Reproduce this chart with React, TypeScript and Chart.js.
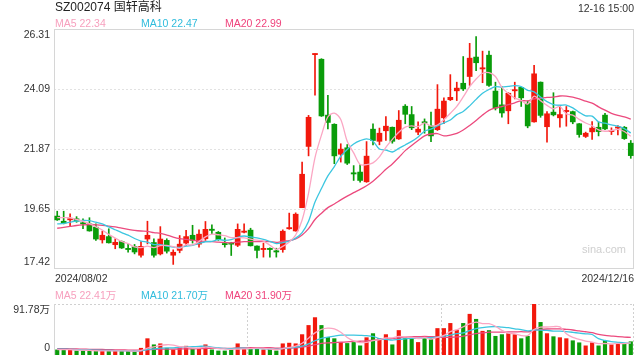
import React, { useEffect, useRef } from 'react';
import { Chart, registerables } from 'chart.js';

Chart.register(...registerables);

// ---------- texts ----------
const titleText = 'SZ002074 国轩高科';
const timeText = '12-16 15:00';
const dateTicks = ['2024/08/02', '2024/12/16'];
const priceTicks = [26.31, 24.09, 21.87, 19.65, 17.42];
const volumeTicks = [91.78, 0];
const priceLegend = ['MA5 22.34', 'MA10 22.47', 'MA20 22.99'];
const volumeLegend = ['MA5 22.41万', 'MA10 21.70万', 'MA20 31.90万'];
const watermark = 'sina.com';

// ---------- data (2024/08/02 .. 2024/12/16, daily) ----------
const opens = [
  19.38, 19.19, 19.24, 19.28, 19.12, 19.09, 18.97, 18.50, 18.62, 18.32,
  18.44, 18.16, 18.25, 17.93, 18.53, 18.40, 17.98, 18.48, 17.93, 18.11,
  18.38, 18.67, 18.34, 18.54, 18.87, 18.78, 18.34, 18.36, 18.30, 18.78,
  18.86, 18.27, 18.14, 18.16, 18.07, 18.14, 18.91, 18.83, 19.69, 21.96,
  25.36, 25.19, 23.12, 22.78, 21.67, 21.91, 20.97, 21.01, 20.65, 22.60,
  22.15, 22.54, 22.67, 22.24, 23.45, 23.14, 22.49, 22.85, 22.72, 22.58,
  23.02, 23.69, 24.02, 24.30, 24.55, 25.27, 24.83, 25.34, 24.01, 23.50,
  23.28, 24.02, 24.15, 23.56, 22.87, 24.34, 22.69, 23.23, 23.02, 23.25,
  23.25, 22.80, 22.33, 22.50, 22.67, 23.12, 22.51, 22.64, 22.67, 22.08,
];
const highs = [
  19.56, 19.56, 19.46, 19.36, 19.28, 19.32, 19.09, 18.82, 18.91, 18.54,
  18.46, 18.33, 18.33, 18.44, 19.19, 18.54, 18.99, 18.54, 18.13, 18.66,
  18.85, 19.04, 18.87, 19.18, 19.06, 18.81, 18.57, 18.41, 19.09, 19.09,
  18.93, 18.28, 18.38, 18.20, 18.19, 18.87, 19.49, 19.50, 21.38, 23.11,
  25.39, 25.21, 23.85, 22.80, 22.06, 22.03, 21.25, 21.29, 22.14, 22.80,
  22.64, 23.07, 22.68, 23.29, 23.51, 23.44, 22.87, 22.98, 23.23, 24.25,
  23.76, 24.62, 24.34, 25.29, 25.78, 26.03, 25.49, 25.49, 24.34, 24.18,
  23.95, 24.34, 24.16, 23.64, 24.96, 24.35, 23.25, 23.95, 23.48, 23.44,
  23.27, 22.81, 22.49, 22.88, 22.86, 23.19, 22.65, 22.73, 22.70, 22.18,
];
const lows = [
  19.22, 19.09, 18.99, 19.15, 18.91, 18.82, 18.48, 18.38, 18.38, 18.17,
  18.18, 18.04, 17.98, 17.86, 18.35, 17.86, 17.94, 18.01, 17.59, 18.02,
  18.29, 18.38, 18.23, 18.48, 18.72, 18.48, 18.23, 17.92, 18.25, 18.76,
  18.27, 17.83, 17.86, 17.86, 17.86, 18.04, 18.89, 18.82, 19.69, 21.61,
  23.86, 23.07, 22.61, 21.32, 21.38, 21.29, 20.70, 20.64, 20.63, 22.02,
  22.02, 22.18, 22.08, 22.22, 22.80, 22.58, 22.40, 22.45, 22.14, 22.55,
  22.80, 23.66, 23.66, 24.03, 24.22, 24.77, 24.32, 24.18, 23.31, 23.04,
  22.80, 23.72, 23.44, 22.65, 22.86, 23.04, 22.12, 23.09, 22.67, 22.71,
  22.80, 22.30, 22.29, 22.22, 22.35, 22.58, 22.40, 22.39, 22.22, 21.52,
];
const closes = [
  19.24, 19.12, 19.27, 19.19, 19.09, 18.83, 18.53, 18.67, 18.39, 18.41,
  18.20, 18.14, 18.05, 18.26, 18.67, 17.93, 18.53, 18.08, 18.04, 18.34,
  18.62, 18.48, 18.71, 18.89, 18.85, 18.51, 18.32, 18.34, 18.89, 18.81,
  18.28, 18.11, 18.17, 18.14, 18.05, 18.82, 18.93, 19.45, 20.93, 23.04,
  25.38, 23.09, 22.85, 21.61, 21.86, 21.34, 20.94, 20.70, 21.60, 22.18,
  22.45, 22.71, 22.15, 22.93, 23.15, 22.65, 22.60, 22.83, 22.35, 23.34,
  23.64, 23.78, 24.12, 24.09, 25.23, 25.06, 24.86, 24.22, 23.38, 23.20,
  23.93, 24.04, 23.76, 22.72, 24.65, 23.11, 23.17, 23.13, 23.14, 23.28,
  22.87, 22.40, 22.45, 22.64, 22.51, 22.61, 22.54, 22.66, 22.25, 21.62,
];
// volume in 万 (10k shares)
const volumes = [
  9.2, 10.4, 9.2, 7.3, 7.3, 7.3, 7.3, 7.3, 7.3, 7.3,
  7.3, 7.3, 6.1, 12.2, 29.4, 18.4, 20.2, 12.2, 9.2, 14.1,
  15.9, 11.0, 12.2, 18.4, 9.2, 7.3, 7.3, 9.2, 20.2, 10.4,
  11.0, 11.0, 9.2, 10.4, 7.3, 20.2, 21.4, 20.2, 36.7, 53.2,
  67.3, 53.2, 31.8, 29.4, 22.6, 20.8, 22.6, 16.5, 31.2, 38.5,
  30.0, 36.7, 18.4, 44.1, 31.8, 30.0, 22.6, 29.4, 29.4, 47.7,
  47.7, 56.9, 44.7, 56.9, 73.4, 64.3, 42.8, 44.1, 33.7, 36.7,
  38.5, 36.7, 29.4, 33.7, 91.78, 58.7, 38.5, 33.0, 31.2, 29.4,
  25.7, 22.0, 16.5, 22.0, 16.5, 26.3, 18.4, 20.8, 20.2, 23.9,
];
// sessions before the visible window (needed for the moving averages)
const priorCloses = [
  18.45, 18.60, 18.50, 18.65, 18.55, 18.80, 19.00, 18.90, 19.10, 19.15,
  18.95, 18.80, 18.75, 18.90, 18.90, 19.10, 19.30, 19.50, 19.46,
];
const priorVolumes = [
  13, 12, 14, 12, 13, 11, 12, 13, 12, 11,
  12, 11, 12, 11, 10, 11, 10, 10, 9,
];

// ---------- styles ----------
const RED = '#f2180c';
const GREEN = '#0a9c0a';
const MA5C = '#fba6c3';
const MA10C = '#3cc6e0';
const MA20C = '#ec4a7e';
const LEG5 = '#f7a0be';
const LEG10 = '#30bcdc';
const LEG20 = '#ef437c';
const FONT = '"Liberation Sans", Arial, "Noto Sans CJK SC", sans-serif';

function movingAverage(prior: number[], values: number[], n: number): number[] {
  const all = prior.concat(values);
  const off = prior.length;
  return values.map((_, i) => {
    let s = 0;
    for (let k = off + i - n + 1; k <= off + i; k++) s += all[k];
    return s / n;
  });
}

function makeAxisPlugin(id: string, ticks: number[], fmt: (v: number) => string, drawGrid: (chart: any) => void) {
  return {
    id,
    beforeDatasetsDraw(chart: any) {
      drawGrid(chart);
    },
    afterDraw(chart: any) {
      const { ctx, chartArea: a, scales } = chart;
      ctx.save();
      ctx.font = '10.5px ' + FONT;
      ctx.fillStyle = '#333';
      ctx.textAlign = 'right';
      ctx.textBaseline = 'middle';
      for (const v of ticks) {
        let y = scales.y.getPixelForValue(v);
        y = Math.min(Math.max(y, a.top + 6.5), a.bottom - 6.5);
        ctx.fillText(fmt(v), a.left - 4, y);
      }
      ctx.restore();
    },
  };
}

function hLine(ctx: any, x1: number, x2: number, y: number) {
  ctx.beginPath();
  ctx.moveTo(x1, y);
  ctx.lineTo(x2, y);
  ctx.stroke();
}
function vLine(ctx: any, x: number, y1: number, y2: number) {
  ctx.beginPath();
  ctx.moveTo(x, y1);
  ctx.lineTo(x, y2);
  ctx.stroke();
}

function Txt(props: { x?: number; right?: number; baseline: number; size: number; color: string; children: any }) {
  const { x, right, baseline, size, color, children } = props;
  const style: any = {
    position: 'absolute',
    top: baseline - 0.8465 * size,
    fontSize: size,
    lineHeight: size + 'px',
    color,
    fontFamily: FONT,
    whiteSpace: 'nowrap',
  };
  if (right !== undefined) {
    style.right = right;
    style.textAlign = 'right';
  } else style.left = x;
  return <div style={style}>{children}</div>;
}

export default function App() {
  const priceRef = useRef<HTMLCanvasElement>(null);
  const volRef = useRef<HTMLCanvasElement>(null);

  useEffect(() => {
    document.body.style.margin = '0';
    const labels = closes.map((_, i) => String(i));
    const colors = closes.map((c, i) => (c >= opens[i] ? RED : GREEN));
    const ma5 = movingAverage(priorCloses, closes, 5);
    const ma10 = movingAverage(priorCloses, closes, 10);
    const ma20 = movingAverage(priorCloses, closes, 20);
    const vma5 = movingAverage(priorVolumes, volumes, 5);
    const vma10 = movingAverage(priorVolumes, volumes, 10);
    const vma20 = movingAverage(priorVolumes, volumes, 20);

    const lineDs = (data: number[], color: string) => ({
      type: 'line' as const,
      data,
      borderColor: color,
      borderWidth: 1.3,
      pointRadius: 0,
      tension: 0.3,
      fill: false,
      order: 0,
    });

    const priceGrid = (chart: any) => {
      const { ctx, chartArea: a, scales } = chart;
      ctx.save();
      ctx.lineWidth = 1;
      ctx.strokeStyle = '#e2e2e2';
      ctx.setLineDash([2, 2]);
      for (const v of priceTicks) {
        const y = Math.round(scales.y.getPixelForValue(v)) + 0.5;
        if (y > a.top + 2 && y < a.bottom - 2) hLine(ctx, a.left, a.right, y);
      }
      ctx.setLineDash([]);
      ctx.strokeStyle = '#d6d6d6';
      ctx.strokeRect(a.left + 0.5, a.top + 0.5, a.right - a.left - 1, a.bottom - a.top - 1);
      ctx.restore();
    };

    const volGrid = (chart: any) => {
      const { ctx, chartArea: a } = chart;
      ctx.save();
      ctx.lineWidth = 1;
      ctx.strokeStyle = '#d0d0d0';
      ctx.setLineDash([2, 2]);
      hLine(ctx, a.left, a.right, a.top + 0.5);
      vLine(ctx, a.right - 0.5, a.top, a.bottom);
      const w = a.right - a.left;
      vLine(ctx, Math.round(a.left + w / 3) + 0.5, a.top, a.bottom);
      vLine(ctx, Math.round(a.left + (2 * w) / 3) + 0.5, a.top, a.bottom);
      ctx.setLineDash([]);
      ctx.strokeStyle = '#d6d6d6';
      vLine(ctx, a.left + 0.5, a.top, a.bottom);
      ctx.restore();
    };

    const priceChart = new Chart(priceRef.current as HTMLCanvasElement, {
      type: 'bar',
      data: {
        labels,
        datasets: [
          lineDs(ma5, MA5C),
          lineDs(ma10, MA10C),
          lineDs(ma20, MA20C),
          {
            type: 'bar',
            data: opens.map((o, i) => [o, closes[i]]),
            backgroundColor: colors,
            barThickness: 5,
            minBarLength: 1.2,
            grouped: false,
            order: 1,
          } as any,
          {
            type: 'bar',
            data: lows.map((l, i) => [l, highs[i]]),
            backgroundColor: colors,
            barThickness: 1,
            grouped: false,
            order: 2,
          } as any,
        ],
      },
      options: {
        responsive: false,
        animation: false,
        layout: { padding: { left: 54, top: 29, right: 6, bottom: 16 } },
        scales: {
          x: { type: 'category', display: false, offset: true, grid: { display: false } },
          y: { type: 'linear', display: false, min: 17.42, max: 26.31 },
        },
        plugins: { legend: { display: false }, tooltip: { enabled: false } },
      },
      plugins: [makeAxisPlugin('priceAxis', priceTicks, (v) => v.toFixed(2), priceGrid)],
    });

    const volChart = new Chart(volRef.current as HTMLCanvasElement, {
      type: 'bar',
      data: {
        labels,
        datasets: [
          lineDs(vma5, MA5C),
          lineDs(vma10, MA10C),
          lineDs(vma20, MA20C),
          {
            type: 'bar',
            data: volumes,
            backgroundColor: colors,
            barThickness: 3.5,
            grouped: false,
            order: 1,
          } as any,
        ],
      },
      options: {
        responsive: false,
        animation: false,
        layout: { padding: { left: 54, top: 9, right: 6, bottom: 5 } },
        scales: {
          x: { type: 'category', display: false, offset: true, grid: { display: false } },
          y: { type: 'linear', display: false, min: 0, max: 91.78 },
        },
        plugins: { legend: { display: false }, tooltip: { enabled: false } },
      },
      plugins: [makeAxisPlugin('volAxis', volumeTicks, (v) => (v === 0 ? '0' : v.toFixed(2) + '万'), volGrid)],
    });

    return () => {
      priceChart.destroy();
      volChart.destroy();
    };
  }, []);

  return (
    <div style={{ position: 'absolute', left: 0, top: 0, width: 640, height: 360, background: '#fff', overflow: 'hidden' }}>
      <canvas ref={priceRef} width={640} height={285} style={{ position: 'absolute', left: 0, top: 0 }} />
      <canvas ref={volRef} width={640} height={65} style={{ position: 'absolute', left: 0, top: 295 }} />
      <Txt x={55} baseline={11.5} size={12} color="#222">{titleText}</Txt>
      <Txt right={6} baseline={12} size={10.5} color="#333">{timeText}</Txt>
      <Txt x={55} baseline={27.3} size={10.5} color={LEG5}>{priceLegend[0]}</Txt>
      <Txt x={141} baseline={27.3} size={10.5} color={LEG10}>{priceLegend[1]}</Txt>
      <Txt x={225} baseline={27.3} size={10.5} color={LEG20}>{priceLegend[2]}</Txt>
      <Txt x={55} baseline={282} size={10.5} color="#333">{dateTicks[0]}</Txt>
      <Txt right={6} baseline={282} size={10.5} color="#333">{dateTicks[1]}</Txt>
      <Txt x={55} baseline={299} size={10.5} color={LEG5}>{volumeLegend[0]}</Txt>
      <Txt x={141} baseline={299} size={10.5} color={LEG10}>{volumeLegend[1]}</Txt>
      <Txt x={225} baseline={299} size={10.5} color={LEG20}>{volumeLegend[2]}</Txt>
      <Txt x={582} baseline={253} size={11} color="#cfcfcf">{watermark}</Txt>
    </div>
  );
}
